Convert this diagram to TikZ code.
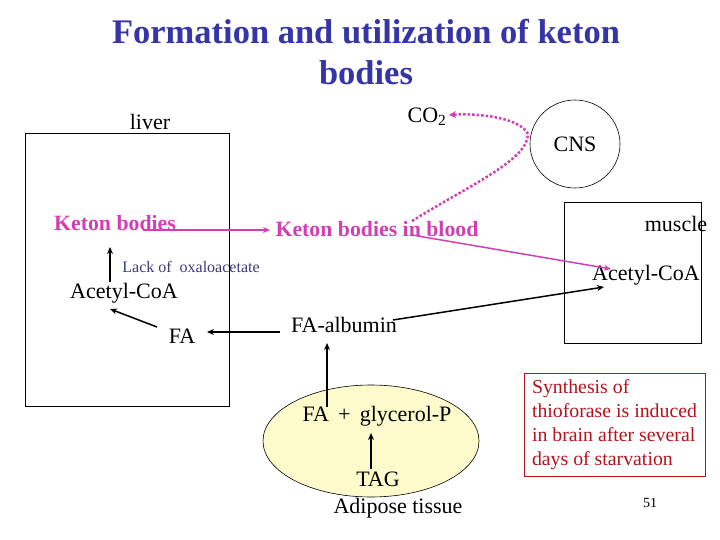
\documentclass[tikz,border=0pt]{standalone}
\usepackage{fontspec}
\setmainfont{Liberation Serif}
\usetikzlibrary{arrows.meta,shapes.geometric}
\definecolor{titleblue}{HTML}{3535A8}
\definecolor{kpink}{HTML}{D23FB5}
\definecolor{dred}{HTML}{B5121B}
\definecolor{slate}{HTML}{3A3A78}
\definecolor{fatyellow}{HTML}{FDFBCB}
\begin{document}
\begin{tikzpicture}[x=1pt,y=-1pt,
  lbl/.style={inner sep=0pt,font=\fontsize{22}{26}\selectfont},
  pinklbl/.style={inner sep=0pt,text=kpink,font=\fontsize{21.8}{26}\selectfont\bfseries},
  boxshape/.style={draw,line width=0.8pt,inner sep=0pt},
  blk/.style={line width=1.5pt,-{Stealth[length=7pt,width=6pt]}},
  pnk/.style={kpink,line width=1.5pt,-{Stealth[length=7pt,width=6pt]}},
  pdot/.style={kpink,line width=2.5pt,dotted,-{Stealth[length=7pt,width=7pt]}}]
\useasboundingbox (0,0) rectangle (720,540);
% title
\node[inner sep=0pt,text=titleblue,align=center,font=\fontsize{34.5}{41}\selectfont\bfseries] (title) at (366,52) {Formation and utilization of keton\\bodies};
% boxes
\node[boxshape,minimum width=204pt,minimum height=273pt] (liverbox) at (127,269.5) {};
\node[boxshape,minimum width=137pt,minimum height=141pt] (musclebox) at (632.5,272.5) {};
\node[draw,ellipse,line width=0.6pt,minimum width=90pt,minimum height=88pt,inner sep=0pt] (cns) at (575,144) {};
\node[draw,ellipse,line width=0.6pt,fill=fatyellow,minimum width=216pt,minimum height=112pt,inner sep=0pt] (adipose) at (371,441) {};
\node[draw=dred,line width=0.8pt,minimum width=181pt,minimum height=103pt,inner sep=0pt] (synbox) at (614.5,424.5) {};
% labels
\node[lbl] (liver) at (150,122) {liver};
\node[lbl] (co2) at (427,117) {CO\textsubscript{2}};
\node[lbl] (cnslbl) at (575,144) {CNS};
\node[pinklbl] (kb) at (115,223) {Keton bodies};
\node[pinklbl] (kbb) at (377,229) {Keton bodies in blood};
\node[lbl] (muscle) at (676,224) {muscle};
\node[inner sep=0pt,text=slate,font=\fontsize{16}{19}\selectfont] (lack) at (191,267) {Lack of \ oxaloacetate};
\node[lbl] (acl) at (124,293) {Acetyl-CoA};
\node[lbl] (acm) at (646,275) {Acetyl-CoA};
\node[lbl] (fa) at (182,336) {FA};
\node[lbl] (faalb) at (344,325) {FA-albumin};
\node[lbl] (fagly) at (377,416) {FA \,+\, glycerol-P};
\node[lbl] (tag) at (378,479) {TAG};
\node[lbl] (adlbl) at (398,508) {Adipose tissue};
\node[inner sep=0pt,text=dred,align=left,font=\fontsize{19.8}{24}\selectfont] (syn) at (614.5,424.5) {Synthesis of\\thioforase is induced\\in brain after several\\days of starvation};
\node[inner sep=0pt,font=\fontsize{14}{16}\selectfont] (pg) at (650,503) {51};
% connector end points
\coordinate (aclup) at (110,282);
\coordinate (kbdown) at (110,247);
\coordinate (fastart) at (157,327);
\coordinate (acldown) at (110,309);
\coordinate (albleft) at (280,332);
\coordinate (faright) at (207,332);
\coordinate (kbmid) at (143,230);
\coordinate (kbbleft) at (270,230);
\coordinate (kbbin) at (412,235);
\coordinate (acmtop) at (611,269);
\coordinate (kbbtop) at (412,221);
\coordinate (cnsleft) at (528,134);
\coordinate (co2right) at (449,115);
\coordinate (albright) at (393,320);
\coordinate (acmleft) at (604,287);
\coordinate (glyup) at (327,407);
\coordinate (albdown) at (327,343);
\coordinate (tagtop) at (371,469);
\coordinate (glydown) at (371,433);
% connectors
\draw[blk] (aclup) -- (kbdown);
\draw[blk] (fastart) -- (acldown);
\draw[blk] (albleft) -- (faright);
\draw[pnk] (kbmid) -- (kbbleft);
\draw[pnk] (kbbin) -- (acmtop);
\draw[pdot] (kbbtop) .. controls (470,185) and (528,160) .. (cnsleft) .. controls (520,118) and (480,113) .. (co2right);
\draw[blk] (albright) -- (acmleft);
\draw[blk] (glyup) -- (albdown);
\draw[blk] (tagtop) -- (glydown);
\end{tikzpicture}
\end{document}
